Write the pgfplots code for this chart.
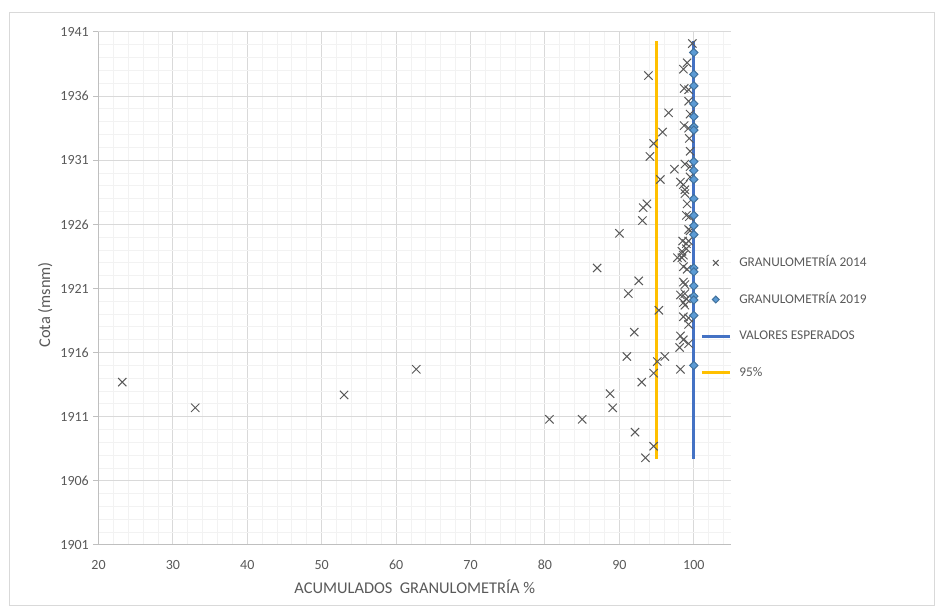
\documentclass[border=0pt]{standalone}
\usepackage{fontspec}
\setmainfont{Carlito}
\usepackage{pgfplots}
\pgfplotsset{compat=1.18}
\definecolor{txt}{HTML}{595959}
\definecolor{majgrid}{HTML}{D9D9D9}
\definecolor{mingrid}{HTML}{F2F2F2}
\definecolor{axisln}{HTML}{BFBFBF}
\definecolor{xmark}{HTML}{595959}
\definecolor{dfill}{HTML}{5B9BD5}
\definecolor{dline}{HTML}{41719C}
\definecolor{blueln}{HTML}{4472C4}
\definecolor{yel}{HTML}{FFC000}
\begin{document}
\begin{tikzpicture}
\path[use as bounding box] (-73.875pt,-48pt) rectangle (628.125pt,408.75pt);
\draw[majgrid, line width=0.75pt] (-66.375pt,-45.75pt) rectangle (626.625pt,399pt);
\begin{axis}[
  at={(0,0)}, anchor=south west,
  scale only axis, width=474.4pt, height=384.75pt,
  xmin=20, xmax=105, ymin=1901, ymax=1941,
  xtick={20,30,...,100}, ytick={1901,1906,...,1941},
  minor xtick={22,24,...,104}, minor y tick num=4,
  grid=both,
  major grid style={majgrid, line width=0.75pt},
  minor grid style={mingrid, line width=0.75pt},
  axis x line*=bottom, axis y line*=left,
  axis line style={-, axisln, line width=0.75pt},
  tick align=outside,
  xtick style={draw=none},
  ytick style={axisln, line width=0.75pt},
  major tick length=3.75pt,
  minor tick style={draw=none},
  ticklabel style={font=\fontsize{10.5}{12}\selectfont, text=txt},
  xticklabel style={yshift=-4pt},
  /pgf/number format/assume math mode=true,
  /pgf/number format/1000 sep={},
  xlabel={ACUMULADOS~~GRANULOMETRÍA~\%},
  ylabel={Cota (msnm)},
  every axis x label/.style={at={(rel axis cs:0.5,0)}, yshift=-31.5pt, anchor=center,
    font=\fontsize{12.3}{14}\selectfont, text=txt},
  every axis y label/.style={at={(rel axis cs:0,0.468)}, xshift=-40pt, rotate=90, anchor=center,
    font=\fontsize{12.3}{14}\selectfont, text=txt},
  legend image code/.code={\draw[mark repeat=2,mark phase=2,#1] plot coordinates {(0pt,0pt) (10.5pt,0pt) (21pt,0pt)};},
  legend style={at={(0.951,0.5628)}, anchor=north west, draw=none, fill=none,
    font=\fontsize{10}{12}\selectfont, text=txt, row sep=18pt, column sep=6pt,
    inner sep=0pt, nodes={inner sep=0pt, text height=7.5pt, text depth=2pt}},
  legend cell align=left,
]
\addplot[only marks, mark=x, mark size=4.4pt, xmark, line width=0.75pt,
  legend image post style={mark size=3pt}] table {
x y
99.8 1940.1
99.1 1938.6
98.6 1938.1
93.9 1937.6
98.7 1936.6
99.3 1936.5
99.3 1935.6
96.6 1934.7
99.5 1934.6
98.7 1933.7
99.3 1933.5
95.8 1933.2
99.4 1932.7
94.6 1932.3
99.5 1931.7
94.1 1931.3
98.8 1930.7
99.5 1930.5
97.4 1930.3
99.5 1929.7
95.5 1929.5
98.2 1929.3
98.6 1929.1
98.8 1928.7
98.8 1928.4
93.7 1927.6
93.2 1927.3
99.1 1927.6
99.0 1926.7
99.4 1926.6
93.1 1926.3
99.3 1925.6
99.5 1925.5
90.0 1925.3
98.5 1924.7
99.0 1924.5
99.3 1924.7
99.0 1924.1
98.4 1923.9
98.6 1923.6
97.8 1923.4
98.4 1923.4
98.6 1922.7
99.1 1922.5
87.0 1922.6
92.6 1921.6
98.6 1921.5
98.8 1921.3
91.2 1920.6
98.2 1920.5
98.8 1920.6
99.0 1920.2
98.6 1919.9
98.8 1919.7
95.3 1919.3
98.6 1918.8
99.3 1918.7
99.3 1918.2
92.0 1917.6
98.2 1917.3
98.6 1917.0
99.3 1916.7
98.1 1916.4
91.0 1915.7
96.1 1915.7
95.1 1915.3
98.2 1914.7
94.6 1914.4
93.0 1913.7
88.75 1912.8
89.1 1911.7
92.1 1909.8
94.6 1908.7
93.5 1907.8
80.6 1910.8
85.0 1910.8
62.7 1914.7
53.0 1912.7
33.0 1911.7
23.2 1913.7
};
\addlegendentry{GRANULOMETRÍA 2014}
\addplot[only marks, mark=square*, mark size=2.2pt, mark options={rotate=45, fill=dfill, draw=dline, line width=0.75pt},
  legend image post style={mark size=1.8pt}] table {
x y
100 1939.4
100 1937.7
100 1936.8
100 1935.4
100 1934.4
100 1933.6
100 1933.35
100 1930.9
100 1930.2
100 1929.5
100 1928.0
100 1926.7
100 1925.9
100 1925.2
100 1922.6
100 1922.3
100 1921.2
100 1920.4
100 1920.1
100 1918.9
100 1915.0
};
\addlegendentry{GRANULOMETRÍA 2019}
\addplot[blueln, line width=2.25pt, no marks] table {
x y
100 1907.7
100 1940.3
};
\addlegendentry{VALORES ESPERADOS}
\addplot[yel, line width=2.25pt, no marks] table {
x y
95 1907.7
95 1940.3
};
\addlegendentry{95\%}
\end{axis}
\end{tikzpicture}
\end{document}
